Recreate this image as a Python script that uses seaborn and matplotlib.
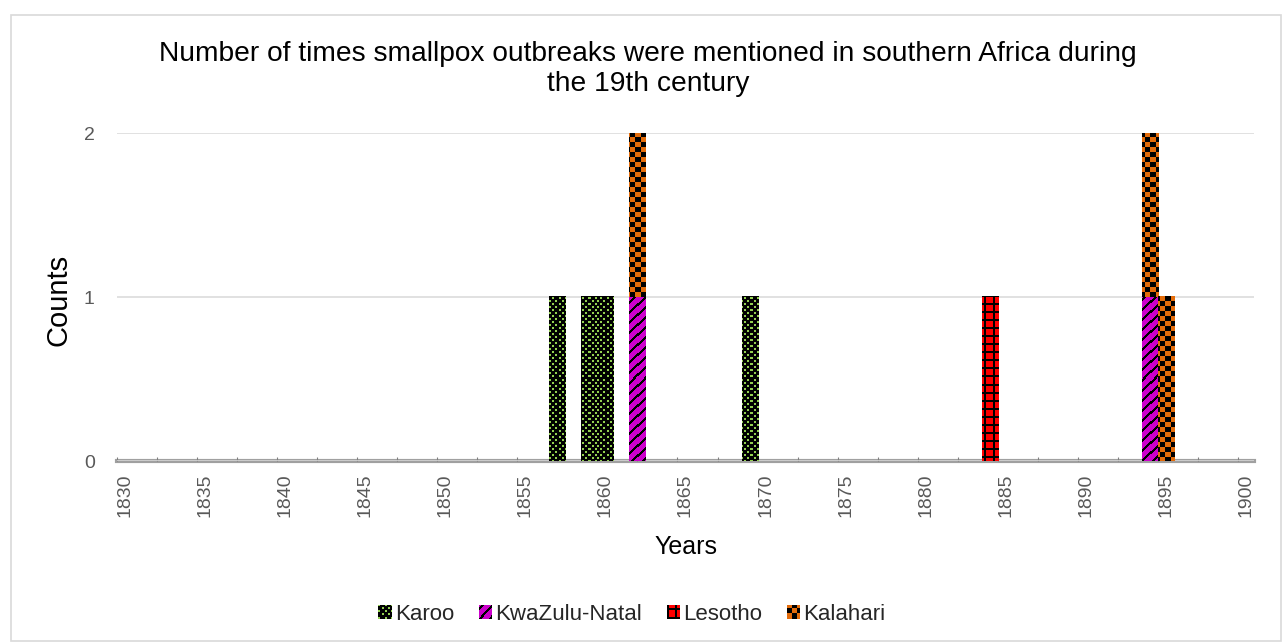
import numpy as np
import pandas as pd
import matplotlib
matplotlib.use("Agg")
import matplotlib.pyplot as plt
import seaborn as sns
from matplotlib.colors import to_rgb
from matplotlib.patches import Patch, Rectangle
from matplotlib.legend_handler import HandlerBase

# ---- data -------------------------------------------------------------
regions = ["Karoo", "KwaZulu-Natal", "Lesotho", "Kalahari"]

karoo_years = [1857, 1859, 1860, 1869]
karoo_counts = [1, 1, 1, 1]

kzn_years = [1862, 1894]
kzn_counts = [1, 1]

lesotho_years = [1884]
lesotho_counts = [1]

kalahari_years = [1862, 1894, 1895]
kalahari_counts = [1, 1, 1]

first_year, last_year = 1830, 1900
tick_years = list(range(1830, 1901, 5))
count_ticks = [0, 1, 2]

title = ("Number of times smallpox outbreaks were mentioned in southern Africa during\n"
         "the 19th century")

# ---- styles -----------------------------------------------------------
colors = {
    "Karoo": "#92d050",
    "KwaZulu-Natal": "#cc00cc",
    "Lesotho": "#ff0000",
    "Kalahari": "#e46c0a",
}


def texture(name, X, Y):
    """Two-colour fill pattern evaluated on integer pixel coordinates."""
    a, b = X % 6, Y % 6
    if name == "Karoo":
        fg = ((a < 2) & (b < 2)) | ((a >= 3) & (a < 5) & (b >= 3) & (b < 5))
        base, ink = "black", colors["Karoo"]
    elif name == "KwaZulu-Natal":
        fg = ((X - Y) % 10) < 3
        base, ink = colors[name], "black"
    elif name == "Lesotho":
        fg = ((X % 8) < 2) | ((Y % 8) < 2)
        base, ink = colors[name], "black"
    else:
        fg = ((X // 5 + Y // 5) % 2) == 1
        base, ink = colors[name], "black"
    out = np.empty(X.shape + (3,))
    out[...] = to_rgb(base)
    out[fg] = to_rgb(ink)
    return out


sns.set_theme(style="white")
plt.rcParams["font.family"] = ["Liberation Sans", "DejaVu Sans"]

series = [
    ("Karoo", karoo_years, karoo_counts),
    ("KwaZulu-Natal", kzn_years, kzn_counts),
    ("Lesotho", lesotho_years, lesotho_counts),
    ("Kalahari", kalahari_years, kalahari_counts),
]
records = []
for region, yrs, cnts in series:
    for y, c in zip(yrs, cnts):
        records.append({"year": y, "region": region, "count": c})
df = pd.DataFrame(records)

W, H = 1284, 642
fig = plt.figure(figsize=(W / 100, H / 100), dpi=100)
ax = fig.add_axes([117 / W, 1 - 461 / H, (1254 - 117) / W, (461 - 133) / H])

# the last hue level ends up at the bottom of each stack
stack_order = ["Kalahari", "Lesotho", "KwaZulu-Natal", "Karoo"]
sns.histplot(
    data=df, x="year", weights="count", hue="region", hue_order=stack_order,
    palette=colors, multiple="stack", discrete=True,
    binrange=(first_year, last_year), shrink=1, alpha=1, linewidth=0,
    legend=False, ax=ax,
)

ax.set_xlim(first_year - 0.5, last_year + 0.5)
ax.set_ylim(0, 2)


def region_of(color):
    rgb = np.array(to_rgb(color))
    for name, c in colors.items():
        if np.allclose(rgb, to_rgb(c), atol=0.02):
            return name
    return None


# patterned fills laid over each bar, aligned to the device pixel grid
for cont in ax.containers:
    if not len(cont.patches):
        continue
    name = region_of(cont.patches[0].get_facecolor())
    for p in cont.patches:
        p.set_facecolor(colors[name])
        p.set_linewidth(0)
        h = p.get_height()
        if h <= 0:
            continue
        x0, y0, w = p.get_x(), p.get_y(), p.get_width()
        (px0, py0), (px1, py1) = ax.transData.transform([(x0, y0), (x0 + w, y0 + h)])
        cx0, cy0 = int(round(px0)), int(round(py0))
        ncol = max(1, int(round(px1)) - cx0)
        nrow = max(1, int(round(py1)) - cy0)
        X, Y = np.meshgrid(np.arange(cx0, cx0 + ncol), np.arange(cy0, cy0 + nrow))
        ax.imshow(texture(name, X, Y), extent=(x0, x0 + w, y0, y0 + h),
                  origin="lower", aspect="auto", interpolation="nearest",
                  zorder=p.get_zorder() + 0.1)

ax.set_xlim(first_year - 0.5, last_year + 0.5)
ax.set_ylim(0, 2)

# axes, ticks, grid
ax.set_xticks(tick_years)
ax.set_xticklabels([str(y) for y in tick_years], rotation=90)
ax.set_xticks(np.arange(first_year - 0.5, last_year + 0.6, 2.5), minor=True)
ax.set_yticks(count_ticks)
ax.set_yticklabels([str(v) for v in count_ticks])
ax.tick_params(axis="x", which="major", length=0, pad=9, labelsize=14, labelcolor="#595959")
ax.tick_params(axis="x", which="minor", length=3, width=0.8, color="#7f7f7f", direction="in", bottom=True)
ax.tick_params(axis="y", length=0, pad=16, labelsize=14, labelcolor="#595959")
ax.yaxis.grid(True, color="#d9d9d9", linewidth=1.1)
ax.xaxis.grid(False)
ax.set_axisbelow(True)
for side in ("left", "right", "top"):
    ax.spines[side].set_visible(False)
ax.spines["bottom"].set_color("#a0a0a0")
ax.spines["bottom"].set_linewidth(3)
ax.spines["bottom"].set_zorder(0.5)

ax.set_xlabel("Years", fontsize=18, color="black")
ax.xaxis.set_label_coords(0.5, -(535 - 461) / 328)
ax.xaxis.label.set_va("top")
ax.set_ylabel("Counts", fontsize=21, color="black")
ax.yaxis.set_label_coords(-(117 - 72) / 1137, 0.49)

fig.text(648 / W, 1 - 41 / H, title, ha="center", va="top", fontsize=20.25,
         color="black", linespacing=1.18)


# legend keys filled with the same patterns
class TextureHandler(HandlerBase):
    def __init__(self, name):
        super().__init__()
        self.name = name

    def create_artists(self, legend, orig_handle, xdescent, ydescent,
                       width, height, fontsize, trans):
        n = 13
        X, Y = np.meshgrid(np.arange(n), np.arange(n))
        rgb = texture(self.name, X, Y)
        cw, ch = width / n, height / n
        arts = []
        for r in range(n):
            for c in range(n):
                arts.append(Rectangle((-xdescent + c * cw, -ydescent + r * ch),
                                      cw * 1.05, ch * 1.05, facecolor=rgb[r, c],
                                      linewidth=0, transform=trans))
        return arts


handles = [Patch(facecolor=colors[name], label=name) for name in regions]
leg = fig.legend(
    handles=handles, labels=regions, loc="center", bbox_to_anchor=(632 / W, 1 - 614 / H),
    ncol=4, frameon=False, fontsize=16, handlelength=0.6, handleheight=0.6,
    handletextpad=0.15, columnspacing=1.1, borderaxespad=0,
    handler_map={h: TextureHandler(n) for h, n in zip(handles, regions)},
)

# outer chart border
fig.patches.append(Rectangle((11 / W, 1 / H), (1281 - 11) / W, (641 - 15) / H,
                             transform=fig.transFigure, fill=False,
                             edgecolor="#d9d9d9", linewidth=1.2))

fig.savefig("out.png", dpi=100)
